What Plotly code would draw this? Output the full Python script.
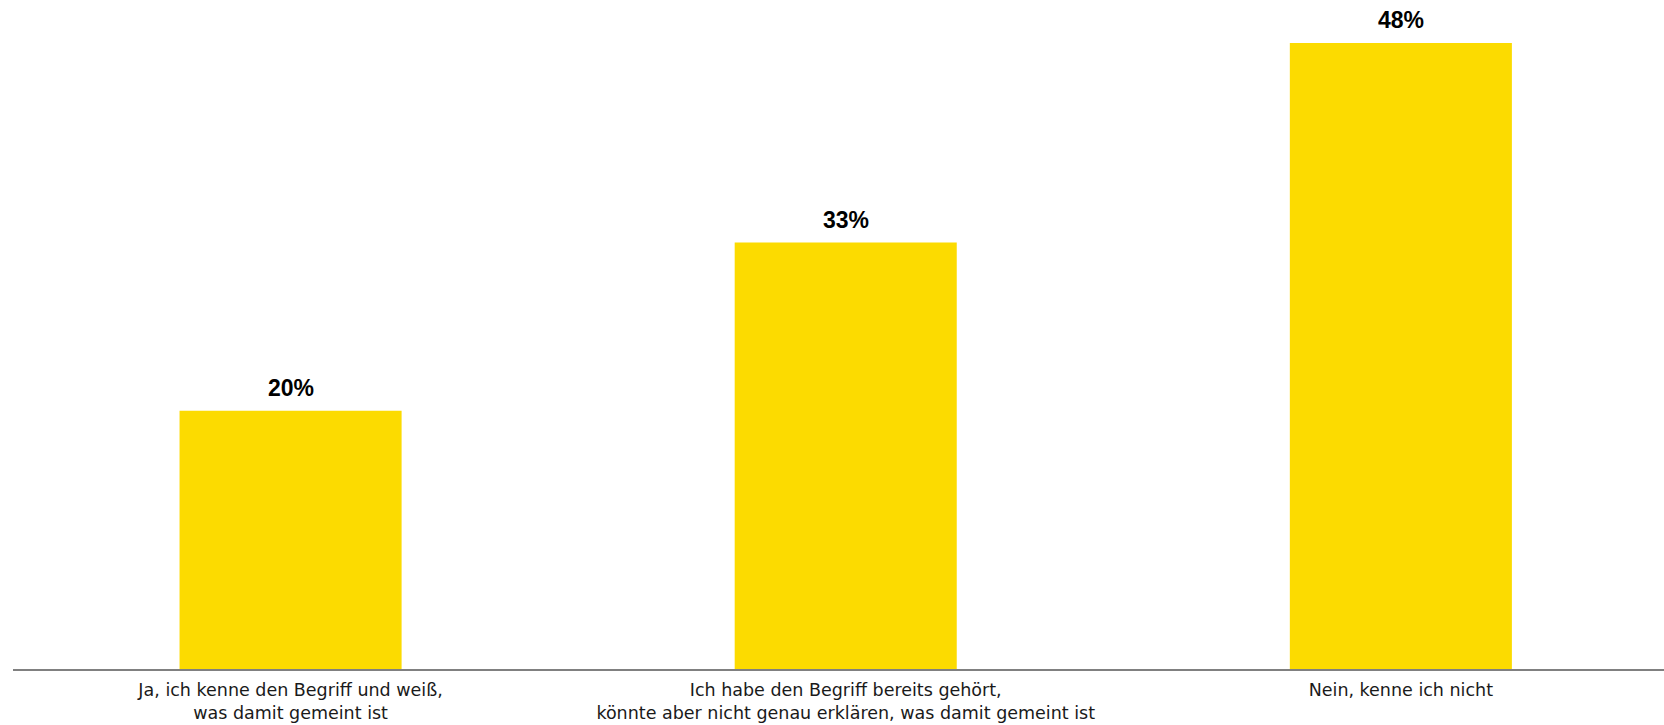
import plotly.graph_objects as go

categories = [
    "Ja, ich kenne den Begriff und weiß,<br>was damit gemeint ist",
    "Ich habe den Begriff bereits gehört,<br>könnte aber nicht genau erklären, was damit gemeint ist",
    "Nein, kenne ich nicht",
]
values = [19.8, 32.7, 48.0]
value_labels = [f"{round(v)}%" for v in values]

bar_color = "#FCDB00"

fig = go.Figure()
fig.add_trace(go.Bar(
    x=categories,
    y=values,
    width=0.4,
    marker=dict(color=bar_color, line=dict(width=0)),
    hoverinfo="skip",
))

for c, v, t in zip(categories, values, value_labels):
    fig.add_annotation(
        x=c, y=v, text=t, showarrow=False,
        yanchor="bottom", yshift=8,
        font=dict(family="Liberation Sans, Arial", size=23, color="#000000", weight="bold"),
    )

fig.update_layout(
    width=1664, height=725,
    margin=dict(l=13, r=0, t=0, b=56),
    paper_bgcolor="white", plot_bgcolor="white",
    showlegend=False,
)
fig.update_xaxes(
    type="category",
    range=[-0.5, 2.474],
    showline=True, linecolor="#808080", linewidth=2,
    showgrid=False, zeroline=False,
    ticks="",
    ticklabelstandoff=4,
    tickfont=dict(family="DejaVu Sans", size=17.5, color="#1a1a1a"),
)
fig.update_yaxes(
    range=[0, 51.3],
    visible=False, showgrid=False, zeroline=False,
)

fig.write_html(
    "out.html",
    config={"displayModeBar": False},
    post_script="document.body.style.margin='0';document.documentElement.style.overflow='hidden';",
)
